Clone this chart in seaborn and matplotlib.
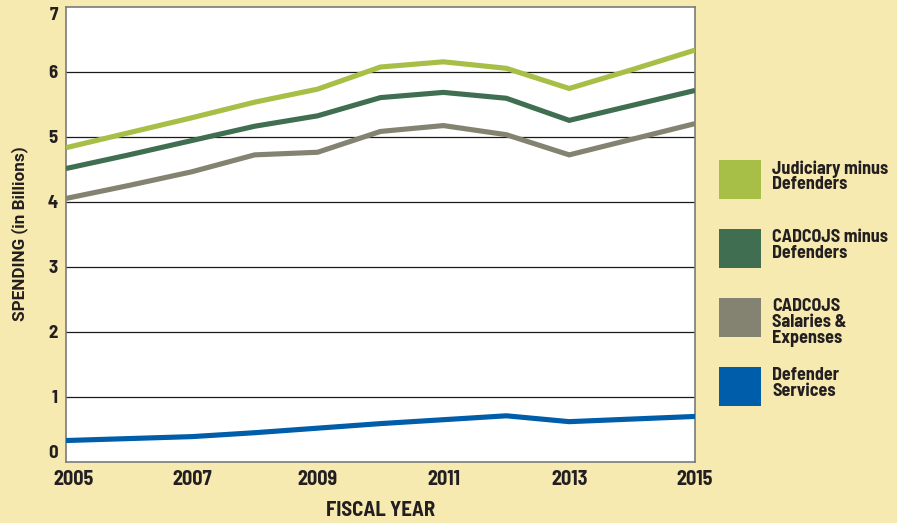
import matplotlib
matplotlib.use("Agg")
import matplotlib.pyplot as plt
from matplotlib.patches import Rectangle
from matplotlib.transforms import ScaledTranslation
import pandas as pd
import seaborn as sns

# Fiscal years and spending series (billions of dollars)
years = list(range(2005, 2016))
judiciary_minus_defenders = [4.83, 5.06, 5.29, 5.53, 5.73, 6.07, 6.15, 6.05, 5.74, 6.03, 6.33]
cadcojs_minus_defenders = [4.51, 4.72, 4.94, 5.16, 5.32, 5.60, 5.68, 5.59, 5.25, 5.48, 5.71]
cadcojs_salaries_expenses = [4.05, 4.25, 4.46, 4.72, 4.76, 5.08, 5.17, 5.03, 4.72, 4.96, 5.20]
defender_services = [0.33, 0.36, 0.39, 0.45, 0.52, 0.59, 0.65, 0.71, 0.62, 0.66, 0.70]

series_names = [
    "Judiciary minus\nDefenders",
    "CADCOJS minus\nDefenders",
    "CADCOJS\nSalaries &\nExpenses",
    "Defender\nServices",
]
series_values = [
    judiciary_minus_defenders,
    cadcojs_minus_defenders,
    cadcojs_salaries_expenses,
    defender_services,
]
colors = ["#A7BF47", "#3F6E51", "#848371", "#005DAA"]
y_ticks = [0, 1, 2, 3, 4, 5, 6, 7]
x_ticks = [2005, 2007, 2009, 2011, 2013, 2015]

df = pd.DataFrame(
    [(name, yr, v) for name, vals in zip(series_names, series_values) for yr, v in zip(years, vals)],
    columns=["series", "year", "spending"],
)

sns.set_style("white")
plt.rcParams["font.family"] = ["Barlow Semi Condensed", "DejaVu Sans"]
plt.rcParams["font.weight"] = "bold"

BG = "#F7EAB0"
TXT = "#231F20"

fig = plt.figure(figsize=(8.97, 5.23), dpi=100, facecolor=BG)
ax = fig.add_axes([66 / 897, 1 - 462 / 523, (695 - 66) / 897, (462 - 6.5) / 523])
ax.set_facecolor("white")

for yv in y_ticks[1:-1]:
    ax.axhline(yv, color="#1a1a1a", lw=0.9, zorder=1)

sns.lineplot(
    data=df, x="year", y="spending", hue="series", hue_order=series_names,
    palette=colors, lw=3.7, legend=False, ax=ax, zorder=3,
)
for line in ax.lines[-4:]:
    line.set_solid_joinstyle("miter")
    line.set_solid_capstyle("butt")

ax.set_xlim(2005, 2015)
ax.set_ylim(0, 7)
ax.set_xticks(x_ticks)
ax.set_yticks(y_ticks)
ax.set_xticklabels([str(t) for t in x_ticks], fontsize=14.5, fontweight="bold", color=TXT)
ax.set_yticklabels([str(t) for t in y_ticks], fontsize=13.5, fontweight="bold", color=TXT)
ax.tick_params(axis="both", length=0)
ax.tick_params(axis="x", pad=6)
ax.tick_params(axis="y", pad=6)
ylabels = ax.get_yticklabels()
ylabels[0].set_verticalalignment("bottom")
ylabels[-1].set_verticalalignment("top")
first_x = ax.get_xticklabels()[0]
first_x.set_horizontalalignment("left")
first_x.set_transform(first_x.get_transform() + ScaledTranslation(-13 / 100, 0, fig.dpi_scale_trans))
for s in ax.spines.values():
    s.set_color("#7a7a7a")
    s.set_linewidth(1.2)
    s.set_visible(True)

ax.set_xlabel("FISCAL YEAR", fontsize=15, fontweight="bold", color=TXT)
ax.xaxis.label.set_verticalalignment("center")
ax.xaxis.set_label_coords(0.5, (462 - 511) / 455.5)

ax.set_ylabel("SPENDING (in Billions)", fontsize=12.3, fontweight="bold", color=TXT,
              family=["Roboto", "DejaVu Sans"])
ax.yaxis.label.set_verticalalignment("center")
ax.yaxis.set_label_coords((20 - 66) / 629, (462 - 234) / 455.5)

# Legend: colour swatches with labels on the right
swatch_tops = [160, 229, 298, 367]
for name, col, top in zip(series_names, colors, swatch_tops):
    fig.patches.append(Rectangle((719 / 897, 1 - (top + 39) / 523), 42 / 897, 39 / 523,
                                 transform=fig.transFigure, facecolor=col, edgecolor="none"))
    fig.text(772 / 897, 1 - (top + 0) / 523, name, ha="left", va="top", fontsize=13,
             fontweight="bold", color=TXT, linespacing=0.92)

fig.savefig("out.png", dpi=100, facecolor=BG)
